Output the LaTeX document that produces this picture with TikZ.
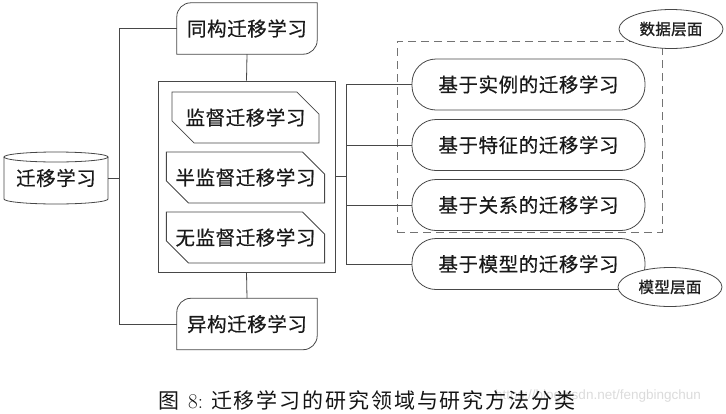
\documentclass[tikz,border=0pt]{standalone}
\usepackage{fontspec}
\newfontfamily\cjk[FakeBold=0.5, LetterSpace=3]{Noto Sans CJK SC}
\newfontfamily\cjkb[AutoFakeBold=1.2, LetterSpace=2]{Noto Sans CJK SC}
\newfontfamily\cjkc[LetterSpace=9]{Noto Sans CJK SC}
\newfontfamily\wm{Liberation Sans}
\usetikzlibrary{shapes.misc,shapes.geometric,calc}
\tikzset{
  ln/.style={draw=black!72, line width=0.8pt},
  lbl/.style={font=\cjk\fontsize{19.5}{21}\selectfont, text=black!90},
  plain/.style={lbl, rectangle, draw=none, minimum width=140pt, minimum height=51pt, inner sep=0pt},
  chbox/.style={lbl, ln, chamfered rectangle, chamfered rectangle corners={north east,south west},
     chamfered rectangle xsep=13pt, chamfered rectangle ysep=13pt, minimum width=147pt, minimum height=51pt, inner sep=0pt},
  ovbox/.style={lbl, ln, rectangle, rounded corners=24pt, minimum width=233pt, minimum height=51pt, inner sep=0pt},
  tag/.style={ln, ellipse, fill=white, minimum width=104pt, minimum height=39pt, inner sep=0pt,
     font=\cjkb\bfseries\fontsize{15.5}{17}\selectfont, text=black!88},
}
\begin{document}
\begin{tikzpicture}[x=1pt,y=1pt]
\useasboundingbox (0,0) rectangle (726,-413);
% root cylinder
\node[plain, minimum width=104pt, minimum height=52pt] (root) at (56,-178) {迁移学习};
\draw[ln] (56,-157) ellipse[x radius=52, y radius=5];
\draw[ln] (4,-157) -- (4,-199) arc[start angle=180, end angle=360, x radius=52, y radius=5] -- (108,-157);
% homogeneous / heterogeneous
\node[plain] (iso) at (247,-28.5) {同构迁移学习};
\draw[ln] (iso.south west) -- ([yshift=-14pt]iso.north west) arc[start angle=180, end angle=90, radius=14pt]
   -- (iso.north east) -- ([yshift=14pt]iso.south east) arc[start angle=0, end angle=-90, radius=14pt] -- cycle;
\node[plain] (het) at (247,-324) {异构迁移学习};
\draw[ln] (het.south west) -- ([yshift=-14pt]het.north west) arc[start angle=180, end angle=90, radius=14pt]
   -- (het.north east) -- ([yshift=14pt]het.south east) arc[start angle=0, end angle=-90, radius=14pt] -- cycle;
% middle group
\node[ln, rectangle, minimum width=177pt, minimum height=191pt, inner sep=0pt] (grp) at (246.5,-176.5) {};
\node[chbox] (sup) at (245.5,-117.5) {监督迁移学习};
\node[chbox] (semi) at (245.5,-177.5) {半监督迁移学习};
\node[chbox] (uns) at (245.5,-237.5) {无监督迁移学习};
% data-level dashed box
\node[draw=black!55, line width=0.8pt, dash pattern=on 8pt off 5pt, rectangle, minimum width=265pt, minimum height=191pt, inner sep=0pt] (data) at (529.5,-136.5) {};
% right methods
\node[ovbox] (inst) at (528.5,-84.5) {基于实例的迁移学习};
\node[ovbox] (feat) at (528.5,-145) {基于特征的迁移学习};
\node[ovbox] (rel) at (528.5,-205) {基于关系的迁移学习};
\node[ovbox] (mod) at (528.5,-264) {基于模型的迁移学习};
% tags
\node[tag] (tdata) at (671,-29) {数据层面};
\node[tag] (tmod) at (670,-287) {模型层面};
% connectors
\coordinate (lbus) at (119,-178);
\coordinate (rbus) at (346,-176.5);
\draw[ln] (root.east) -- (lbus);
\draw[ln] (iso.west) -| (lbus);
\draw[ln] (het.west) -| (lbus);
\draw[ln] (iso.south) -- (grp.north);
\draw[ln] (grp.south) -- (het.north);
\draw[ln] (grp.east) -- (rbus);
\draw[ln] (inst.west) -| (rbus);
\draw[ln] (feat.west) -| (rbus);
\draw[ln] (rel.west) -| (rbus);
\draw[ln] (mod.west) -| (rbus);
% caption and watermark
\node[text=black!14, inner sep=0pt, anchor=west] (wmk) at (495,-396) {\wm\fontsize{13.5}{16}\selectfont https://blog.csdn.net/fengbingchun};
\node[text=black!92, inner sep=0pt, anchor=west] (cap) at (158,-400) {\cjkc\fontsize{21}{23}\selectfont 图\hspace{9pt}{\rmfamily 8:}\hspace{8pt}迁移学习的研究领域与研究方法分类};
\end{tikzpicture}
\end{document}
